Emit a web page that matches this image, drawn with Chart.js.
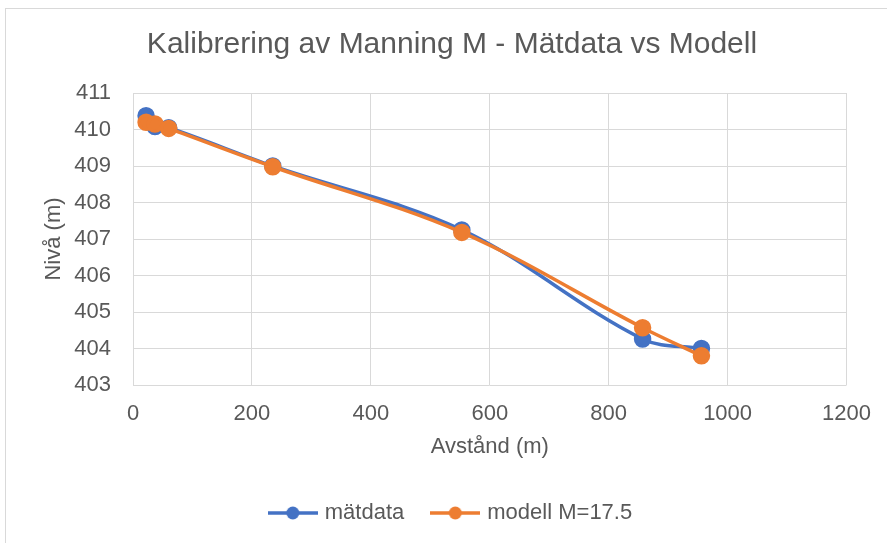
<!DOCTYPE html>
<html>
<head>
<meta charset="utf-8">
<script src="https://cdn.jsdelivr.net/npm/chart.js@4.4.0/dist/chart.umd.min.js"></script>
<style>
  html, body { margin: 0; padding: 0; background: #ffffff; }
  #frame { position: absolute; left: 5px; top: 8px; width: 900px; height: 560px; border: 1px solid #d9d9d9; }
  #wrap { position: absolute; left: 0; top: 0; width: 887px; height: 543px; }
</style>
</head>
<body>
<div id="frame"></div>
<div id="wrap"><canvas id="c" width="887" height="543"></canvas></div>
<script>
// Avstånd (m) och nivå (m) längs sträckan
const matAvstand = [22, 37, 60, 235, 553, 857, 956];
const matNiva    = [410.38, 410.08, 410.05, 409.0, 407.25, 404.26, 404.0];
const modAvstand = [22, 37, 60, 235, 553, 857, 956];
const modNiva    = [410.2, 410.15, 410.03, 408.98, 407.18, 404.57, 403.8];
const xTicks = [0, 200, 400, 600, 800, 1000, 1200];
const yTicks = [403, 404, 405, 406, 407, 408, 409, 410, 411];

const BLUE = '#4472C4';
const ORANGE = '#ED7D31';
const TEXT = '#595959';
const FONT = 'Liberation Sans';

function pts(xs, ys) { return xs.map((x, i) => ({ x: x, y: ys[i] })); }

// legend marker: line with a dot in the middle
function legendIcon(color) {
  const c = document.createElement('canvas');
  c.width = 50; c.height = 16;
  const g = c.getContext('2d');
  g.strokeStyle = color; g.lineWidth = 3.5;
  g.beginPath(); g.moveTo(0, 8); g.lineTo(50, 8); g.stroke();
  g.fillStyle = color;
  g.beginPath(); g.arc(25, 8, 6.5, 0, Math.PI * 2); g.fill();
  return c;
}

new Chart(document.getElementById('c'), {
  type: 'scatter',
  data: {
    datasets: [
      {
        label: 'mätdata',
        data: pts(matAvstand, matNiva),
        showLine: true,
        borderColor: BLUE, backgroundColor: BLUE,
        borderWidth: 3.5, pointRadius: 7, pointHoverRadius: 7,
        tension: 0.35, order: 1,
        pointStyle: 'circle'
      },
      {
        label: 'modell M=17.5',
        data: pts(modAvstand, modNiva),
        showLine: true,
        borderColor: ORANGE, backgroundColor: ORANGE,
        borderWidth: 3.5, pointRadius: 7, pointHoverRadius: 7,
        tension: 0.35, order: 0,
        pointStyle: 'circle'
      }
    ]
  },
  options: {
    responsive: false,
    animation: false,
    layout: { padding: { left: 17, right: 0, top: 0, bottom: 9 } },
    plugins: {
      title: {
        display: true,
        text: 'Kalibrering av Manning M - Mätdata vs Modell',
        color: TEXT,
        font: { family: FONT, size: 30, weight: 'normal' },
        padding: { top: 27, bottom: 30 }
      },
      legend: {
        position: 'bottom',
        labels: {
          usePointStyle: true,
          pointStyleWidth: 42,
          color: TEXT,
          font: { family: FONT, size: 22 },
          padding: 30,
          sort: (a, b) => a.datasetIndex - b.datasetIndex,
          generateLabels: (chart) => chart.data.datasets.map((ds, i) => ({
            text: ds.label,
            fontColor: TEXT,
            pointStyle: legendIcon(ds.borderColor),
            datasetIndex: i,
            hidden: false,
            lineWidth: 0
          }))
        }
      },
      tooltip: { enabled: false }
    },
    scales: {
      x: {
        type: 'linear',
        min: 0, max: 1200,
        afterBuildTicks: (axis) => { axis.ticks = xTicks.map(v => ({ value: v })); },
        afterFit: (axis) => { axis.height = 87; },
        grid: { color: '#d9d9d9', lineWidth: 1, drawTicks: false },
        border: { display: false },
        ticks: { color: TEXT, font: { family: FONT, size: 22 }, padding: 16, callback: (v) => String(v) },
        title: {
          display: true, text: 'Avstånd (m)', color: TEXT,
          font: { family: FONT, size: 22 },
          padding: { top: 0, bottom: 12 }
        }
      },
      y: {
        type: 'linear',
        min: 403, max: 411,
        afterBuildTicks: (axis) => { axis.ticks = yTicks.map(v => ({ value: v })); },
        afterFit: (axis) => { axis.width = 116; },
        grid: { color: '#d9d9d9', lineWidth: 1, drawTicks: false },
        border: { display: false },
        ticks: { color: TEXT, font: { family: FONT, size: 22 }, padding: 22, callback: (v) => String(v) },
        title: {
          display: true, text: 'Nivå (m)', color: TEXT,
          font: { family: FONT, size: 22 },
          padding: { top: 24, bottom: 0 }
        }
      },
      // empty right-hand margin box beside the plot area
      spacer: {
        type: 'linear',
        position: 'right',
        min: 0, max: 1,
        afterFit: (axis) => { axis.width = 39; },
        grid: { display: false, drawTicks: false },
        border: { display: false },
        ticks: { display: false }
      }
    }
  }
});
</script>
</body>
</html>
